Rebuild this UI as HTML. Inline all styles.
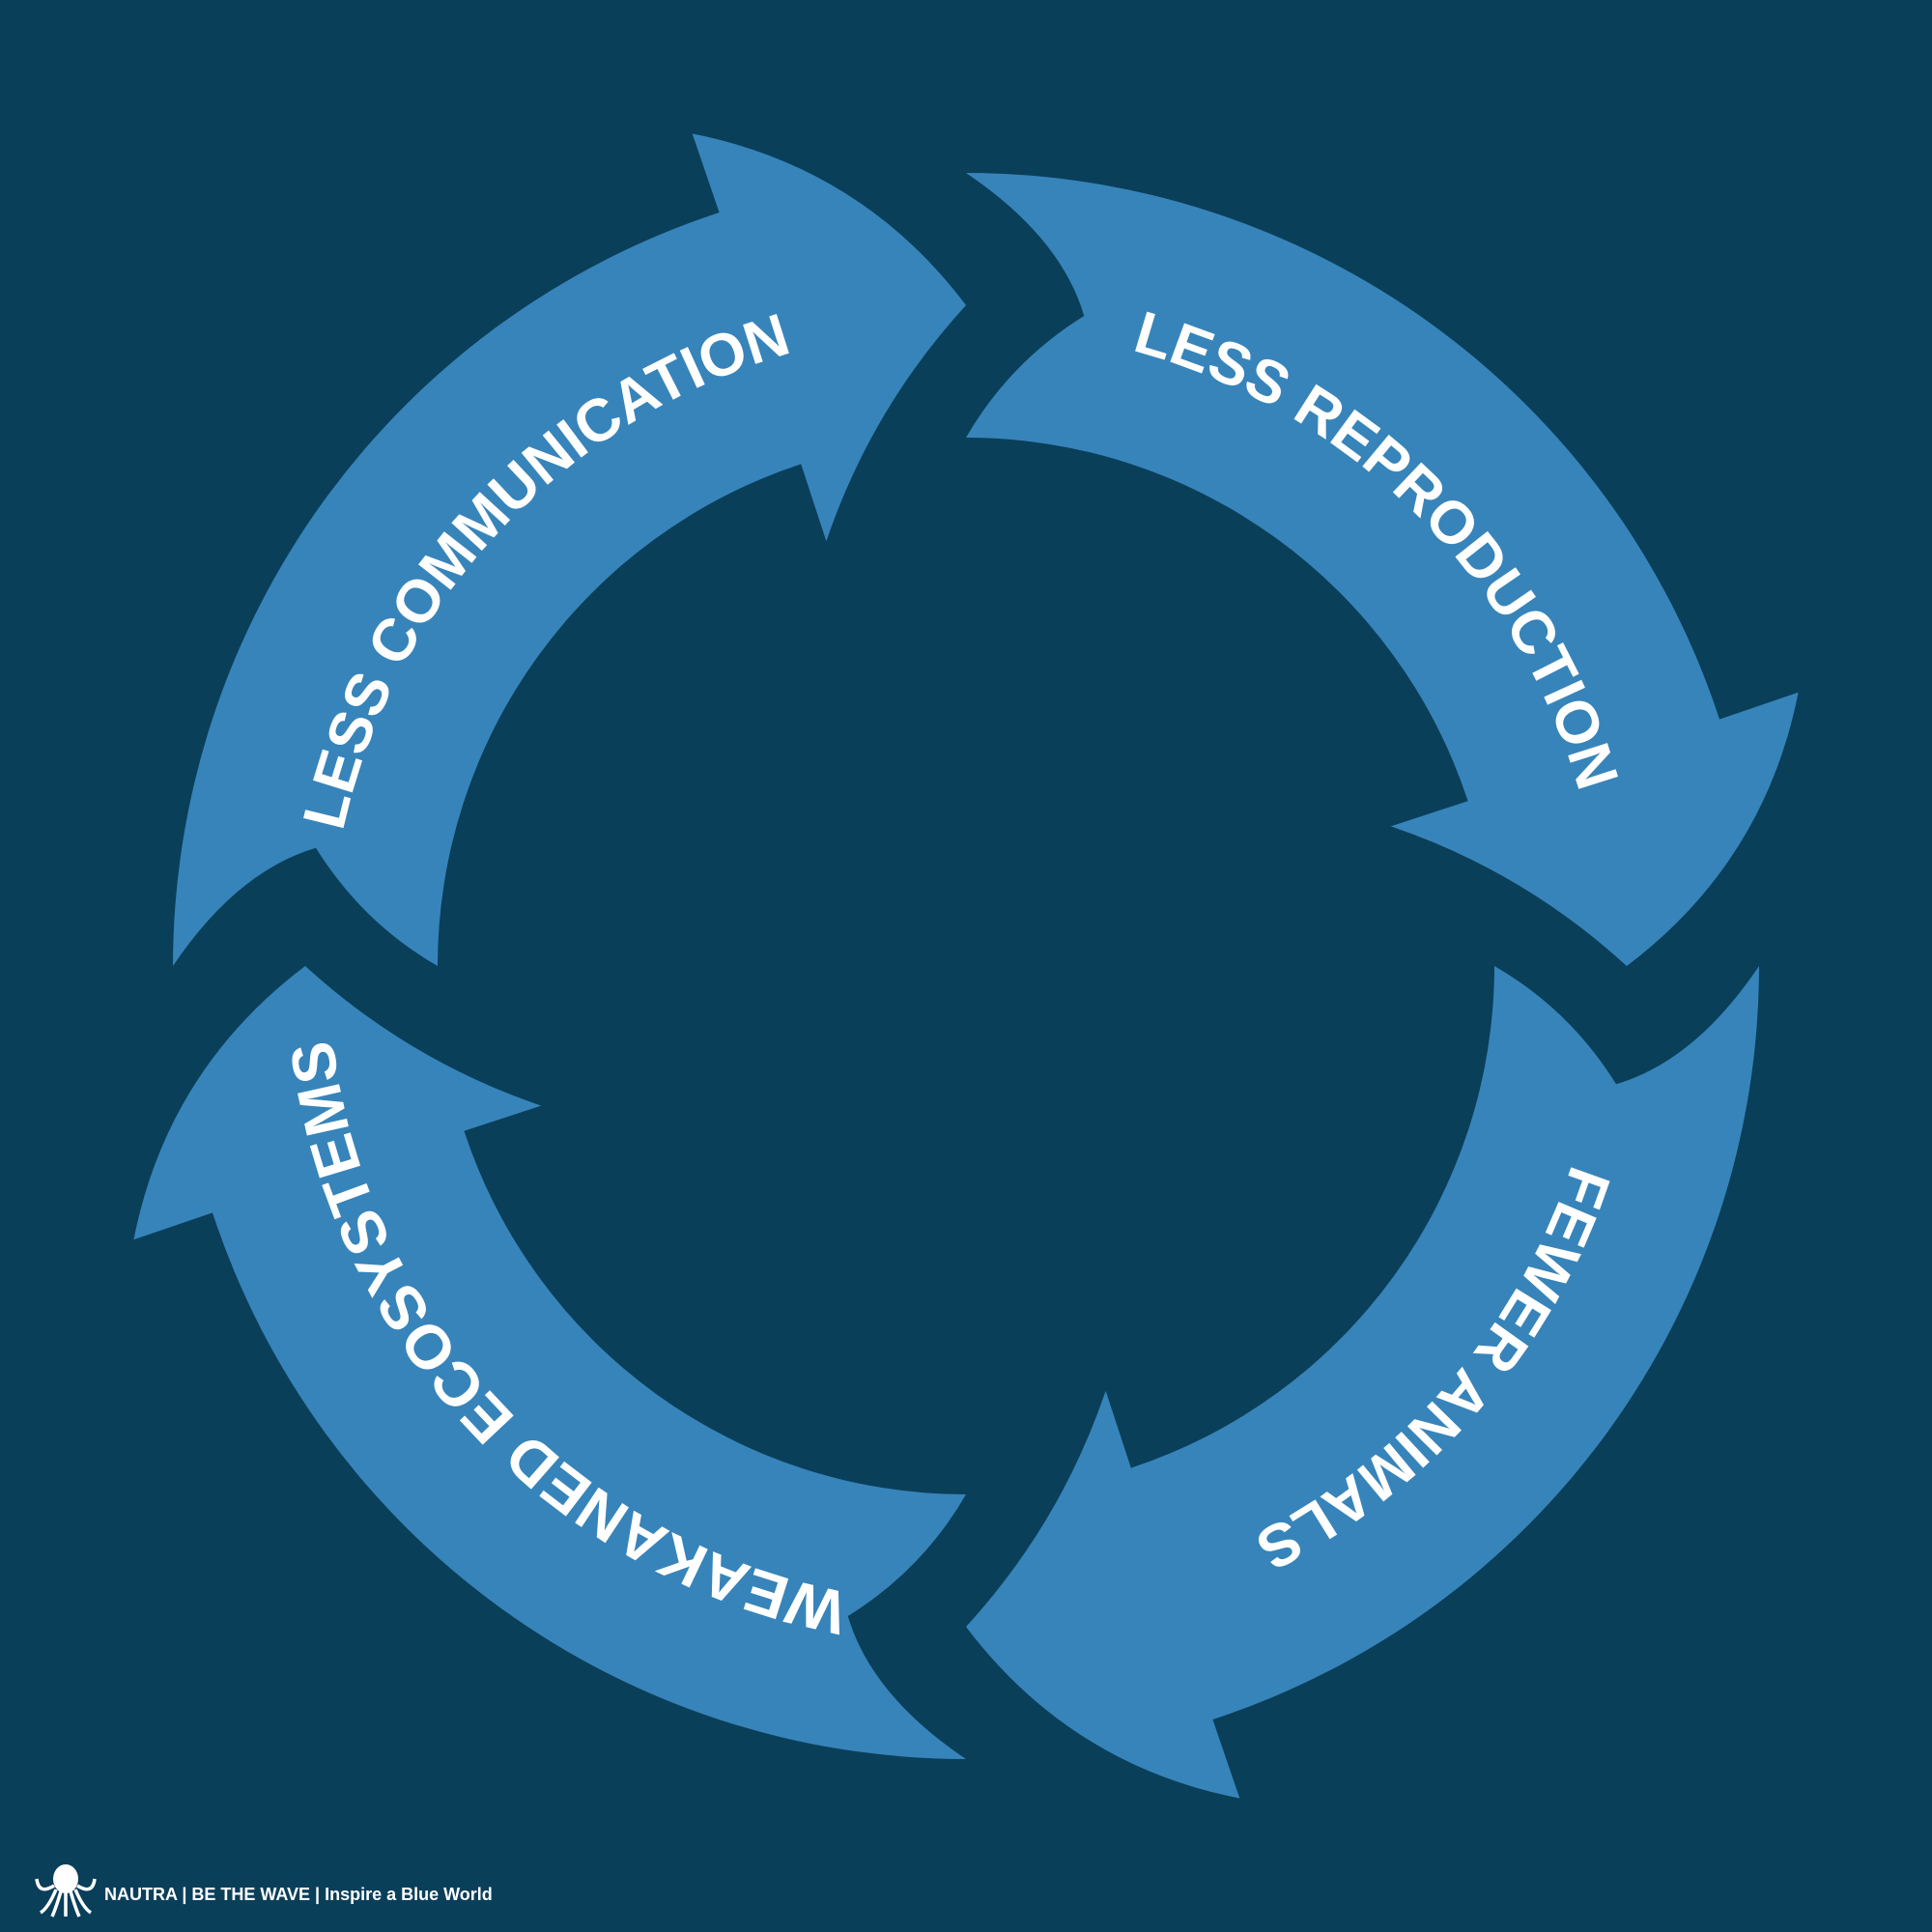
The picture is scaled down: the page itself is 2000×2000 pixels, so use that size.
<!DOCTYPE html>
<html><head><meta charset="utf-8"><style>
html,body{margin:0;padding:0;background:#0A3F5A;}
svg{display:block}
</style></head><body>
<svg width="2000" height="2000" viewBox="0 0 2000 2000" xmlns="http://www.w3.org/2000/svg">
<rect width="2000" height="2000" fill="#0A3F5A"/>
<defs>
<path id="arr" fill="#3784BA" d="M1000,179 A821,821 0 0 1 1780,744.6 L1861.6,716.7 Q1827,892 1684,1000 Q1577,902 1439.8,855.4 L1519.6,829.2 A547,547 0 0 0 1000,453 Q1045,375 1122.3,327 Q1098,245 1000,179 Z"/>
<path id="tp" d="M1000,340 A660,660 0 1 1 1000,1660 A660,660 0 1 1 1000,340"/>
</defs>
<use href="#arr"/>
<use href="#arr" transform="rotate(90 1000 1000)"/>
<use href="#arr" transform="rotate(180 1000 1000)"/>
<use href="#arr" transform="rotate(270 1000 1000)"/>
<g font-family="Liberation Sans, Arial, sans-serif" font-weight="bold" font-size="62" fill="#fff" text-anchor="middle">
<text><textPath href="#tp" startOffset="12.4%">LESS REPRODUCTION</textPath></text>
<text><textPath href="#tp" startOffset="36.3%">FEWER ANIMALS</textPath></text>
<text font-size="64"><textPath href="#tp" startOffset="63.05%">WEAKANED ECOSYSTEMS</textPath></text>
<text><textPath href="#tp" startOffset="87.0%">LESS COMMUNICATION</textPath></text>
</g>
<g fill="#fff" stroke="#fff">
<ellipse cx="68" cy="1945" rx="13" ry="15" stroke="none"/>
<path d="M58,1956 Q50,1975 42,1980 M63,1958 Q58,1975 54,1984 M68,1958 L68,1984 M73,1958 Q78,1975 82,1984 M78,1956 Q86,1975 94,1980 M56,1952 Q40,1962 38,1945 M80,1952 Q96,1962 98,1945" fill="none" stroke-width="3.5"/>
</g>
<text x="108" y="1967" font-family="Liberation Sans, Arial, sans-serif" font-weight="bold" font-size="18" fill="#fff">NAUTRA | BE THE WAVE | Inspire a Blue World</text>
</svg>
</body></html>
